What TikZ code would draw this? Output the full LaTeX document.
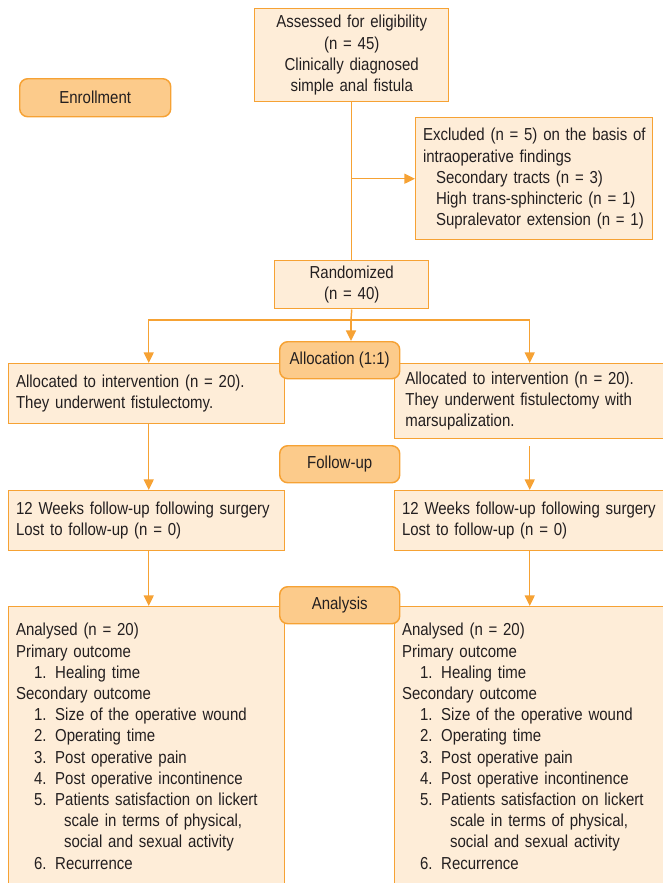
\documentclass[tikz,border=0pt]{standalone}
\usepackage{fontspec}
\setmainfont[FakeStretch=0.865]{Liberation Sans}
\usetikzlibrary{arrows.meta}

\definecolor{boxline}{RGB}{246,162,52}
\definecolor{boxfill}{RGB}{254,237,216}
\definecolor{stagefill}{RGB}{252,203,139}
\definecolor{inktext}{RGB}{35,31,32}

\tikzset{
  flowbox/.style={draw=boxline, fill=boxfill, line width=1.1pt, text=inktext,
    inner xsep=5.5pt, inner ysep=0pt, align=left, anchor=north west,
    font=\fontsize{13}{15.9}\selectfont},
  stage/.style={draw=boxline, fill=stagefill, line width=1.1pt, rounded corners=6pt,
    text=inktext, inner sep=0pt, anchor=north west, align=center,
    font=\fontsize{13}{15.9}\selectfont},
  flow/.style={draw=boxline, line width=1.1pt},
  flowarrow/.style={flow, -{Triangle[length=8pt,width=7.5pt]}}
}

\begin{document}
\begin{tikzpicture}[x=0.75pt,y=-0.75pt]
\useasboundingbox (0,0) rectangle (662,883);

%Draw Enrollment Boxes
\node[flowbox, align=center, text width=134.5pt, minimum height=69.75pt] (assess) at (254,8)
  {Assessed for eligibility\\(n = 45)\\Clinically diagnosed\\simple anal fistula};
\node[flowbox, text width=166.75pt, minimum height=91.5pt] (excl) at (415,117)
  {\mbox{Excluded (n = 5) on the basis of}\\intraoperative findings\\
   \hspace*{9.75pt}Secondary tracts (n = 3)\\
   \hspace*{9.75pt}High trans-sphincteric (n = 1)\\
   \hspace*{9.75pt}Supralevator extension (n = 1)};
\node[flowbox, align=center, text width=104.5pt, minimum height=36pt] (rand) at (274,260)
  {Randomized\\(n = 40)};

%Draw Allocation Boxes
\node[flowbox, text width=196pt, minimum height=45pt] (leftA) at (8,363)
  {Allocated to intervention (n = 20).\\They underwent fistulectomy.};
\node[flowbox, text width=191.5pt, minimum height=56.25pt] (rightA) at (394,363)
  {\hspace*{2.5pt}Allocated to intervention (n = 20).\\\hspace*{2.5pt}They underwent fistulectomy with\\\hspace*{2.5pt}marsupalization.};

%Draw Follow-up Boxes
\node[flowbox, text width=196pt, minimum height=45pt] (leftF) at (8,490)
  {12 Weeks follow-up following surgery\\Lost to follow-up (n = 0)};
\node[flowbox, text width=191.5pt, minimum height=45pt] (rightF) at (394,490)
  {12 Weeks follow-up following surgery\\Lost to follow-up (n = 0)};

%Draw Analysis Boxes
\node[flowbox, text width=196pt, minimum height=209.25pt] (leftN) at (8,606)
  {Analysed (n = 20)\\Primary outcome\\
   \hspace*{13.5pt}1. Healing time\\Secondary outcome\\
   \hspace*{13.5pt}1. Size of the operative wound\\
   \hspace*{13.5pt}2. Operating time\\
   \hspace*{13.5pt}3. Post operative pain\\
   \hspace*{13.5pt}4. Post operative incontinence\\
   \hspace*{13.5pt}5. Patients satisfaction on lickert\\
   \hspace*{36pt}scale in terms of physical,\\
   \hspace*{36pt}social and sexual activity\\
   \hspace*{13.5pt}6. Recurrence};
\node[flowbox, text width=191.5pt, minimum height=209.25pt] (rightN) at (394,606)
  {Analysed (n = 20)\\Primary outcome\\
   \hspace*{13.5pt}1. Healing time\\Secondary outcome\\
   \hspace*{13.5pt}1. Size of the operative wound\\
   \hspace*{13.5pt}2. Operating time\\
   \hspace*{13.5pt}3. Post operative pain\\
   \hspace*{13.5pt}4. Post operative incontinence\\
   \hspace*{13.5pt}5. Patients satisfaction on lickert\\
   \hspace*{36pt}scale in terms of physical,\\
   \hspace*{36pt}social and sexual activity\\
   \hspace*{13.5pt}6. Recurrence};

%Draw Connectors
\coordinate (split) at (351,320);
\draw[flow] (assess.south) -- (rand.north);
\draw[flowarrow] (assess.south |- excl.west) -- (excl.west);
\draw[flow] (rand.south) -- (split);
\draw[flowarrow] (split) -- (split |- 0,341);
\draw[flowarrow] (split) -| ([xshift=1.5pt]leftA.north);
\draw[flowarrow] (split) -| (rightA.north);
\draw[flowarrow] ([xshift=1.5pt]leftA.south) -- ([xshift=1.5pt]leftF.north);
\draw[flowarrow] ([yshift=-5.25pt]rightA.south) -- (rightF.north);
\draw[flowarrow] ([xshift=1.5pt]leftF.south) -- ([xshift=1.5pt]leftN.north);
\draw[flowarrow] (rightF.south) -- (rightN.north);

%Draw Stage Labels
\node[stage, minimum width=113.25pt, minimum height=28.5pt] (enroll) at (19,78) {Enrollment};
\node[stage, minimum width=90pt, minimum height=27.75pt] (alloc) at (279,341) {Allocation (1:1)};
\node[stage, minimum width=90pt, minimum height=27.75pt] (follow) at (279,445) {Follow-up};
\node[stage, minimum width=90pt, minimum height=27.75pt] (analysis) at (279,586) {Analysis};

\end{tikzpicture}
\end{document}
